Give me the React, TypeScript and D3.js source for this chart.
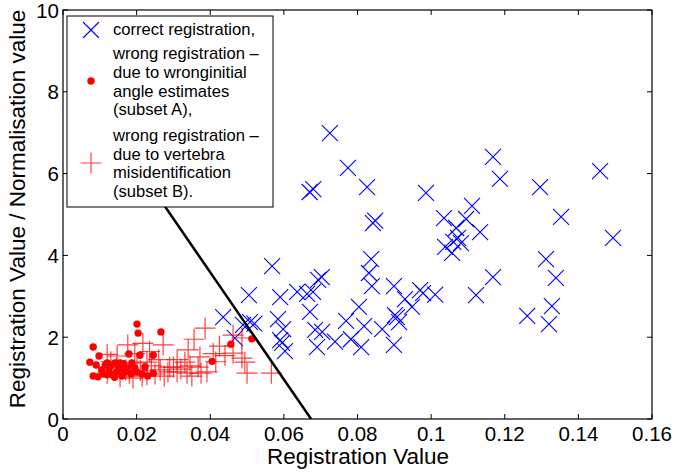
import React from "react";
import * as d3 from "d3";

// ---- data ----
const blueX = [0.0725,0.0774,0.0826,0.0670,0.0680,0.0842,0.0848,0.1168,0.1187,0.0986,0.1111,0.1035,0.1095,0.1133,0.1068,0.1073,0.1060,0.1038,0.1057,0.1081,0.1459,0.1296,0.1353,0.1494,0.1312,0.1339,0.1328,0.1261,0.1320,0.1168,0.1122,0.1011,0.0837,0.0831,0.0839,0.0899,0.0929,0.0948,0.0970,0.0978,0.0804,0.0907,0.0902,0.0913,0.0818,0.0867,0.0769,0.0782,0.0810,0.0899,0.0568,0.0505,0.0590,0.0636,0.0663,0.0679,0.0693,0.0703,0.0671,0.0435,0.0489,0.0508,0.0520,0.0584,0.0598,0.0590,0.0595,0.0603,0.0685,0.0704,0.0690,0.0739,0.0467];
const blueY = [6.99,6.14,5.67,5.55,5.62,4.79,4.85,6.41,5.87,5.53,5.21,4.91,4.89,4.57,4.67,4.43,4.33,4.21,4.06,4.30,6.06,5.67,4.94,4.43,3.91,3.45,2.76,2.52,2.32,3.47,3.03,3.04,3.91,3.57,3.25,3.25,2.93,2.74,3.15,3.08,2.74,2.49,2.54,2.37,2.27,2.20,2.40,1.95,1.76,1.81,3.74,3.03,2.98,3.11,3.06,3.11,3.40,3.47,2.62,2.49,2.30,2.37,2.33,2.44,2.20,1.93,1.86,1.66,2.18,2.13,1.76,1.89,1.98];

const dotX = [0.0201,0.0204,0.0266,0.0082,0.0098,0.0073,0.0090,0.0179,0.0209,0.0245,0.0120,0.0141,0.0187,0.0223,0.0245,0.0456,0.0513,0.0405,0.0082,0.0095,0.0110,0.0125,0.0130,0.0135,0.0145,0.0150,0.0155,0.0160,0.0165,0.0170,0.0105,0.0115,0.0185,0.0195,0.0215,0.0230,0.0140,0.0120,0.0175,0.0200,0.0155];
const dotY = [2.32,2.10,2.13,1.76,1.54,1.39,1.32,1.59,1.56,1.56,1.37,1.37,1.37,1.27,1.12,1.83,1.96,1.41,1.05,1.03,1.10,1.20,1.30,1.08,1.15,1.30,1.22,1.05,1.35,1.15,1.20,1.32,1.10,1.25,1.10,1.05,1.02,1.08,1.25,1.15,1.37];

const plusX = [0.0386,0.0356,0.0217,0.0176,0.0272,0.0120,0.0147,0.0228,0.0310,0.0331,0.0340,0.0372,0.0408,0.0462,0.0486,0.0486,0.0494,0.0500,0.0566,0.0367,0.0391,0.0337,0.0300,0.0264,0.0228,0.0190,0.0155,0.0120,0.0201,0.0462,0.0290,0.0250,0.0210,0.0180,0.0240,0.0285,0.0320,0.0350,0.0375,0.0260,0.0195,0.0235,0.0145,0.0130,0.0170,0.0310,0.0345,0.0415,0.0425,0.0275,0.0215,0.0440];
const plusY = [2.22,1.95,1.85,1.81,1.81,1.58,1.54,1.39,1.45,1.39,1.69,1.52,1.60,2.05,1.98,1.49,1.39,1.12,1.12,1.27,1.15,1.12,1.27,1.20,1.08,1.00,1.03,1.12,1.37,1.61,1.27,1.10,1.18,1.12,1.30,1.15,1.22,1.05,1.12,1.45,1.60,1.65,1.25,1.40,1.20,1.15,1.30,1.40,1.78,1.05,1.05,1.55];

// decision boundary (starts hidden under the legend)
const lineX = [0.025, 0.0674];
const lineY = [5.55, 0];

const xTicks = [0, 0.02, 0.04, 0.06, 0.08, 0.1, 0.12, 0.14, 0.16];
const xTickLabels = ["0", "0.02", "0.04", "0.06", "0.08", "0.1", "0.12", "0.14", "0.16"];
const yTicks = [0, 2, 4, 6, 8, 10];
const yTickLabels = ["0", "2", "4", "6", "8", "10"];

const legendLines = [
  ["correct registration,"],
  ["wrong registration \u2013", "due to wronginitial", "angle estimates", "(subset A),"],
  ["wrong registration \u2013", "due to vertebra", "misidentification", "(subset B)."],
];

export default function App() {
  const W = 676, H = 473;
  const x = d3.scaleLinear().domain([0, 0.16]).range([63, 652]);
  const y = d3.scaleLinear().domain([0, 10]).range([419, 10]);
  const font = "'Liberation Sans', Arial, Helvetica, sans-serif";
  const blue = "#0000ff";
  const red = "#ff0000";
  const xs = 8;
  const ps = 10.5;
  const line = d3.line<number>().x((d, i) => x(lineX[i])).y((d, i) => y(lineY[i]));

  const X = (cx: number, cy: number, k: string) => (
    <path key={k} d={`M${cx - xs},${cy - xs}L${cx + xs},${cy + xs}M${cx - xs},${cy + xs}L${cx + xs},${cy - xs}`} stroke={blue} strokeWidth={1.1} fill="none" />
  );
  const P = (cx: number, cy: number, k: string) => (
    <path key={k} d={`M${cx - ps},${cy}L${cx + ps},${cy}M${cx},${cy - ps}L${cx},${cy + ps}`} stroke={red} strokeOpacity={0.75} strokeWidth={1.2} fill="none" />
  );

  const [x0, x1] = x.range();
  const [y0, y1] = y.range();

  const lgTextX = 113;
  const lgBaselines = [35, 59, 78, 97, 115, 141, 160, 178, 197];
  let li = 0;

  return (
    <svg width={W} height={H} style={{ position: "absolute", left: 0, top: 0, background: "#fff" }} fontFamily={font}>
      <rect x={0} y={0} width={W} height={H} fill="#fff" />
      <defs>
        <clipPath id="plotclip">
          <rect x={x0} y={y1} width={x1 - x0} height={y0 - y1} />
        </clipPath>
      </defs>
      <g clipPath="url(#plotclip)">
        {blueX.map((v, i) => X(x(v), y(blueY[i]), "b" + i))}
        {plusX.map((v, i) => P(x(v), y(plusY[i]), "p" + i))}
        {dotX.map((v, i) => (
          <circle key={"d" + i} cx={x(v)} cy={y(dotY[i])} r={3.7} fill={red} />
        ))}
        <path d={line(lineX) || ""} stroke="#000" strokeWidth={2.5} fill="none" />
      </g>

      <rect x={x0} y={y1} width={x1 - x0} height={y0 - y1} fill="none" stroke="#000" strokeWidth={1.2} />
      {xTicks.map((t, i) => (
        <g key={"xt" + i}>
          <line x1={x(t)} x2={x(t)} y1={y0} y2={y0 - 5} stroke="#000" />
          <line x1={x(t)} x2={x(t)} y1={y1} y2={y1 + 5} stroke="#000" />
          <text x={x(t)} y={441} fontSize={20.5} textAnchor="middle" fill="#000">{xTickLabels[i]}</text>
        </g>
      ))}
      {yTicks.map((t, i) => (
        <g key={"yt" + i}>
          <line x1={x0} x2={x0 + 5} y1={y(t)} y2={y(t)} stroke="#000" />
          <line x1={x1} x2={x1 - 5} y1={y(t)} y2={y(t)} stroke="#000" />
          <text x={59} y={y(t) + 7.5} fontSize={20.5} textAnchor="end" fill="#000">{yTickLabels[i]}</text>
        </g>
      ))}

      <text x={358} y={464} fontSize={22.5} textAnchor="middle" fill="#000">Registration Value</text>
      <text transform="translate(25,209) rotate(-90)" fontSize={22.5} textAnchor="middle" fill="#000">Registration Value / Normalisation value</text>

      <rect x={67} y={16} width={206} height={191} fill="#fff" stroke="#000" strokeWidth={1} />
      {X(91, 30, "lx")}
      <circle cx={91} cy={81} r={3.7} fill={red} />
      {P(91, 163, "lp")}
      {legendLines.map((grp, gi) =>
        grp.map((s, j) => {
          const yy = lgBaselines[li++];
          return (
            <text key={"lg" + gi + "_" + j} x={lgTextX} y={yy} fontSize={16.6} fill="#000">{s}</text>
          );
        })
      )}
    </svg>
  );
}
